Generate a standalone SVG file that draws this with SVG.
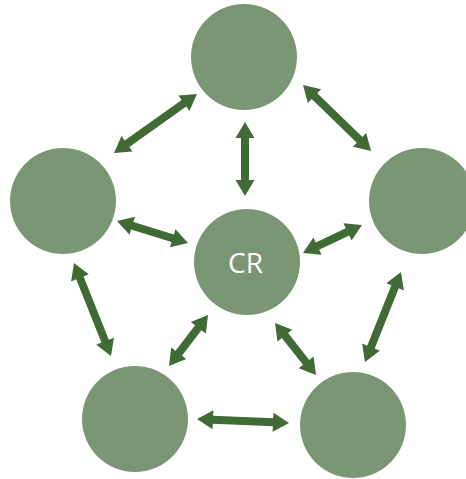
<svg xmlns="http://www.w3.org/2000/svg" width="466" height="479" viewBox="0 0 466 479">
<style>
.node{fill:#7b9674}
.arrow{fill:#416b35}
.lbl{font-family:"Open Sans","Liberation Sans",sans-serif;font-size:28px;fill:#ffffff;text-anchor:middle}
</style>
<rect width="466" height="479" fill="#ffffff"/>
<g id="n-top"><circle class="node" cx="244" cy="57" r="53"/></g>
<g id="n-left"><circle class="node" cx="63" cy="201" r="53"/></g>
<g id="n-right"><circle class="node" cx="422" cy="201" r="53"/></g>
<g id="n-center"><circle class="node" cx="247" cy="262" r="53"/><text class="lbl" x="245.5" y="273">CR</text></g>
<g id="n-bl"><circle class="node" cx="135" cy="419" r="53"/></g>
<g id="n-br"><circle class="node" cx="353" cy="425" r="53"/></g>
<g id="connectors">
<path class="arrow" transform="translate(114,153) rotate(-35.4)" d="M0,0 L16,-9.5 L16,-4 L85.8,-4 L85.8,-9.5 L101.8,0 L85.8,9.5 L85.8,4 L16,4 L16,9.5 Z"/>
<path class="arrow" transform="translate(245,122) rotate(90)" d="M0,0 L16,-9.5 L16,-4 L58,-4 L58,-9.5 L74,0 L58,9.5 L58,4 L16,4 L16,9.5 Z"/>
<path class="arrow" transform="translate(303,85) rotate(44.1)" d="M0,0 L16,-9.5 L16,-4 L78.8,-4 L78.8,-9.5 L94.8,0 L78.8,9.5 L78.8,4 L16,4 L16,9.5 Z"/>
<path class="arrow" transform="translate(117,221) rotate(17.2)" d="M0,0 L16,-9.5 L16,-4 L58.3,-4 L58.3,-9.5 L74.3,0 L58.3,9.5 L58.3,4 L16,4 L16,9.5 Z"/>
<path class="arrow" transform="translate(303,253) rotate(-25.4)" d="M0,0 L16,-9.5 L16,-4 L49.3,-4 L49.3,-9.5 L65.3,0 L49.3,9.5 L49.3,4 L16,4 L16,9.5 Z"/>
<path class="arrow" transform="translate(74,263) rotate(68.3)" d="M0,0 L16,-9.5 L16,-4 L84.1,-4 L84.1,-9.5 L100.1,0 L84.1,9.5 L84.1,4 L16,4 L16,9.5 Z"/>
<path class="arrow" transform="translate(208,315) rotate(127.4)" d="M0,0 L16,-9.5 L16,-4 L48.2,-4 L48.2,-9.5 L64.2,0 L48.2,9.5 L48.2,4 L16,4 L16,9.5 Z"/>
<path class="arrow" transform="translate(275,323) rotate(51.7)" d="M0,0 L16,-9.5 L16,-4 L50.2,-4 L50.2,-9.5 L66.2,0 L50.2,9.5 L50.2,4 L16,4 L16,9.5 Z"/>
<path class="arrow" transform="translate(401,272) rotate(111.8)" d="M0,0 L16,-9.5 L16,-4 L80.9,-4 L80.9,-9.5 L96.9,0 L80.9,9.5 L80.9,4 L16,4 L16,9.5 Z"/>
<path class="arrow" transform="translate(197,419) rotate(2.5)" d="M0,0 L16,-9.5 L16,-4 L76.1,-4 L76.1,-9.5 L92.1,0 L76.1,9.5 L76.1,4 L16,4 L16,9.5 Z"/>
</g>
</svg>
